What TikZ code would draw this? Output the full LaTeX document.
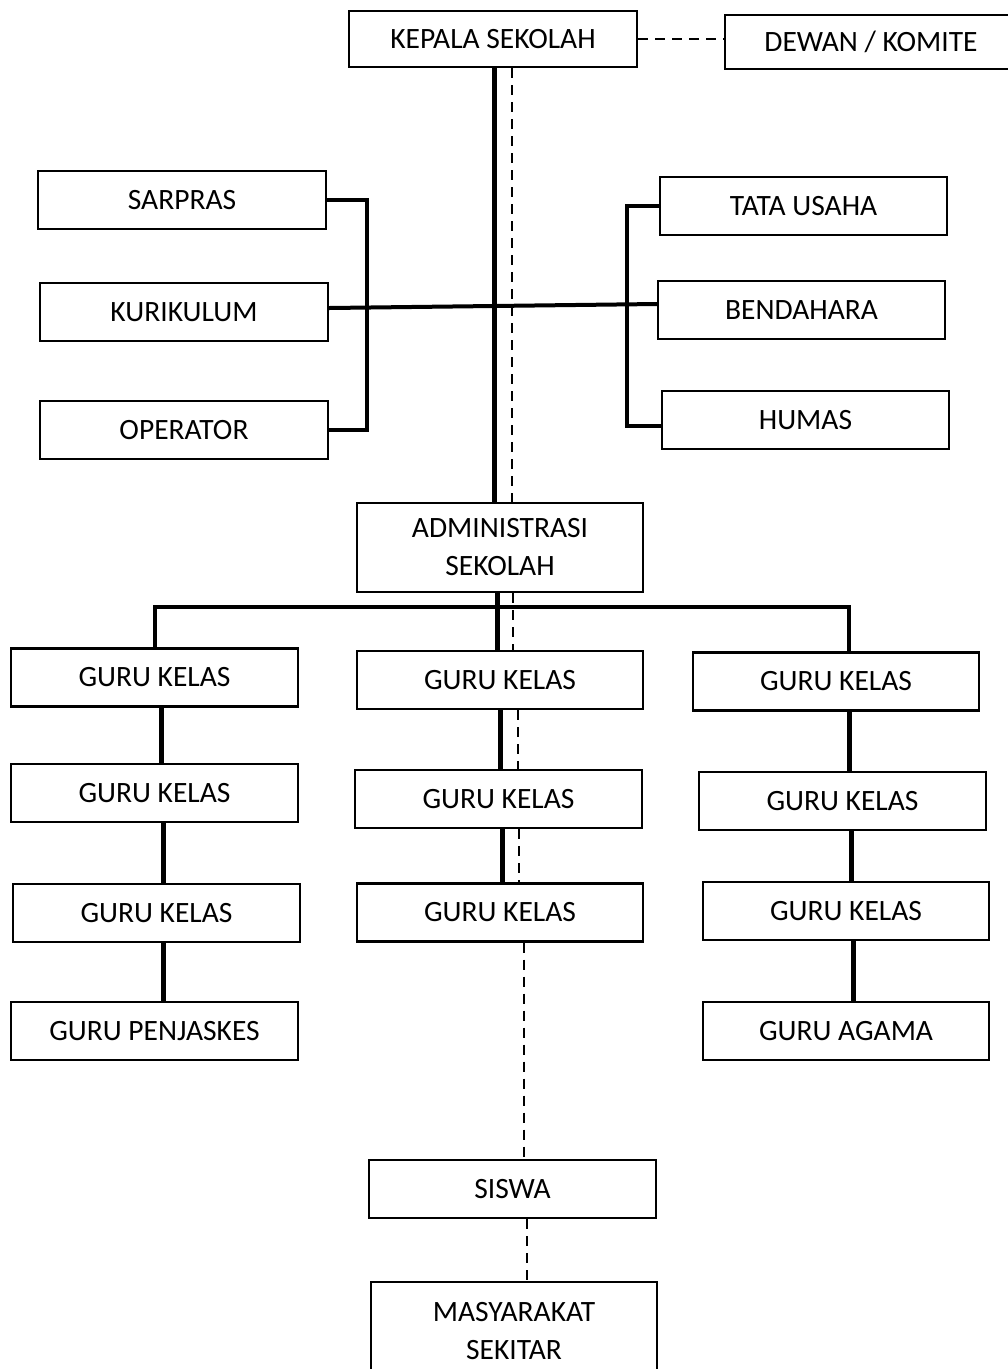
\documentclass[tikz,border=0pt]{standalone}
\usepackage{fontspec}
\setmainfont{Carlito}
\begin{document}
\begin{tikzpicture}[x=1pt,y=-1pt,
  box/.style={draw,line width=2.3pt,minimum width=287pt,minimum height=58pt,inner sep=0pt,align=center,font=\fontsize{29.5}{38}\selectfont},
  thickc/.style={line width=5pt},
  medc/.style={line width=4pt},
  dashc/.style={line width=2.5pt,dash pattern=on 10pt off 7pt}]
\useasboundingbox (0,0) rectangle (1008,1369);
\fill[white] (0,0) rectangle (1008,1369);
% nodes
\node[box,minimum width=288pt,minimum height=56pt] (kepala) at (493,39) {KEPALA SEKOLAH};
\node[box,minimum width=292pt,minimum height=54pt] (dewan) at (871,42) {DEWAN / KOMITE};
\node[box,minimum width=288pt] (sarpras) at (182,200) {SARPRAS};
\node[box,minimum width=288pt] (kurikulum) at (184,312) {KURIKULUM};
\node[box,minimum width=288pt] (operator) at (184,430) {OPERATOR};
\node[box] (tata) at (803.5,206) {TATA USAHA};
\node[box] (bendahara) at (801.5,310) {BENDAHARA};
\node[box] (humas) at (805.5,420) {HUMAS};
\node[box,minimum width=286pt,minimum height=89pt] (admin) at (500,547.5) {ADMINISTRASI\\SEKOLAH};
\node[box] (L1) at (154.5,677.5) {GURU KELAS};
\node[box] (L2) at (154.5,793) {GURU KELAS};
\node[box] (L3) at (156.5,913) {GURU KELAS};
\node[box] (L4) at (154.5,1031) {GURU PENJASKES};
\node[box,minimum width=286pt] (M1) at (500,680) {GURU KELAS};
\node[box] (M2) at (498.5,799) {GURU KELAS};
\node[box,minimum width=286pt] (M3) at (500,912.5) {GURU KELAS};
\node[box,minimum width=286pt] (R1) at (836,681.5) {GURU KELAS};
\node[box] (R2) at (842.5,801) {GURU KELAS};
\node[box,minimum width=286pt] (R3) at (846,911) {GURU KELAS};
\node[box,minimum width=286pt] (R4) at (846,1031) {GURU AGAMA};
\node[box] (siswa) at (512.5,1189) {SISWA};
\node[box,minimum width=286pt,minimum height=98pt] (masy) at (514,1331) {MASYARAKAT\\SEKITAR};
% helper x positions
\coordinate (xa) at (494,0);
\coordinate (xb) at (512,0);
\coordinate (xc) at (497,0);
\coordinate (xd) at (513,0);
\coordinate (xe) at (500,0);
\coordinate (xf) at (518,0);
\coordinate (xg) at (524,0);
\coordinate (xh) at (527,0);
\coordinate (bar) at (0,607);
% connectors
\draw[dashc] (kepala.east) -- (kepala.east -| dewan.west);
\draw[thickc] (kepala.south -| xa) -- (admin.north -| xa);
\draw[dashc] (kepala.south -| xb) -- (admin.north -| xb);
\draw[medc] (sarpras.east) -- ++(40,0) |- (operator.east);
\draw[medc] (tata.west) -- ++(-32,0) |- ([yshift=-6pt]humas.west);
\draw[medc] ([yshift=4pt]kurikulum.east) -- ([yshift=6pt]bendahara.west);
\draw[medc] (L1.north) -- (L1.north |- bar) -- ([xshift=13pt]R1.north |- bar) -- ([xshift=13pt]R1.north);
\draw[thickc] (admin.south -| xc) -- (M1.north -| xc);
\draw[dashc] (admin.south -| xd) -- (M1.north -| xd);
\draw[thickc] (M1.south -| xe) -- (M2.north -| xe);
\draw[dashc] (M1.south -| xf) -- (M2.north -| xf);
\draw[thickc] ([xshift=2pt]M2.south -| xe) -- ([xshift=2pt]M3.north -| xe);
\draw[dashc] ([xshift=1pt]M2.south -| xf) -- ([xshift=1pt]M3.north -| xf);
\draw[dashc] (M3.south -| xg) -- (siswa.north -| xg);
\draw[dashc] (siswa.south -| xh) -- (masy.north -| xh);
\draw[thickc] ([xshift=6.5pt]L1.south) -- ([xshift=6.5pt]L2.north);
\draw[thickc] ([xshift=8.5pt]L2.south) -- ([xshift=8.5pt]L3.north -| L2.south);
\draw[thickc] ([xshift=6.5pt]L3.south) -- ([xshift=8.5pt]L4.north);
\draw[thickc] ([xshift=13pt]R1.south) -- ([xshift=6.5pt]R2.north);
\draw[thickc] ([xshift=8.5pt]R2.south) -- ([xshift=5pt]R3.north);
\draw[thickc] ([xshift=7pt]R3.south) -- ([xshift=7pt]R4.north);
\end{tikzpicture}
\end{document}
